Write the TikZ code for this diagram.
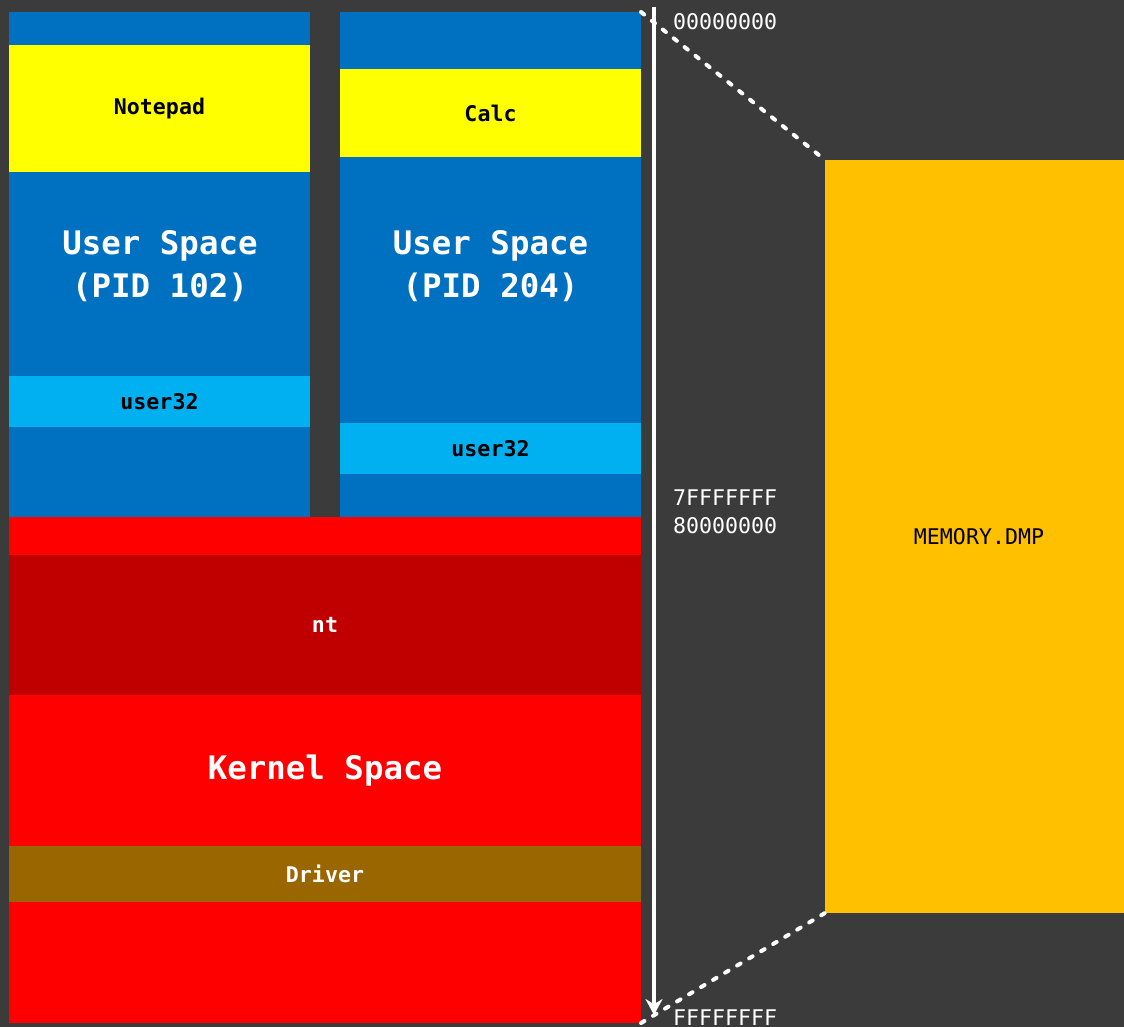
\documentclass[tikz,border=0pt]{standalone}
\usepackage{fontspec}
\setmonofont{DejaVu Sans Mono}
\usetikzlibrary{arrows.meta}
\definecolor{bg}{HTML}{3B3B3B}
\definecolor{ublue}{HTML}{0070C0}
\definecolor{uyellow}{HTML}{FFFF00}
\definecolor{lblue}{HTML}{00B0F0}
\definecolor{kred}{HTML}{FF0000}
\definecolor{dred}{HTML}{C00000}
\definecolor{brown}{HTML}{996600}
\definecolor{orange}{HTML}{FFC000}
\begin{document}
\begin{tikzpicture}[x=1pt,y=-1pt,
  box/.style={draw=none,inner sep=0pt,outer sep=0pt,anchor=north west},
  small/.style={font=\ttfamily\bfseries\fontsize{21.6}{26}\selectfont},
  big/.style={font=\ttfamily\bfseries\fontsize{32.4}{43}\selectfont,text=white,align=center},
  addr/.style={font=\ttfamily\fontsize{21.6}{26}\selectfont,text=white,anchor=west,inner sep=0pt},
  dashline/.style={draw=white,line width=4pt,line cap=round,dash pattern=on 4pt off 10pt}]
\fill[bg] (0,0) rectangle (1124,1027);
\useasboundingbox (0,0) rectangle (1124,1027);
\clip (0,0) rectangle (1124,1027);
% column 1
\node[box,fill=ublue,minimum width=301pt,minimum height=505pt] (u1) at (9,12) {};
\node[box,fill=uyellow,minimum width=301pt,minimum height=127pt,small] (np) at (9,45) {\raisebox{-2pt}{Notepad}};
\node[box,fill=lblue,minimum width=301pt,minimum height=51pt,small] (us1) at (9,376) {user32};
\node[big] (t1) at (160,266.5) {User Space\\(PID 102)};
% column 2
\node[box,fill=ublue,minimum width=301pt,minimum height=505pt] (u2) at (340,12) {};
\node[box,fill=uyellow,minimum width=301pt,minimum height=88pt,small] (calc) at (340,69) {Calc};
\node[box,fill=lblue,minimum width=301pt,minimum height=51pt,small] (us2) at (340,423) {user32};
\node[big] (t2) at (490.5,266.5) {User Space\\(PID 204)};
% kernel
\node[box,fill=kred,minimum width=632pt,minimum height=506pt] (k) at (9,517) {};
\node[box,fill=dred,minimum width=632pt,minimum height=140pt,small,text=white] (nt) at (9,555) {nt};
\node[big] (kt) at (325,771) {Kernel Space};
\node[box,fill=brown,minimum width=632pt,minimum height=56pt,small,text=white] (drv) at (9,846) {Driver};
% memory dump
\node[box,fill=orange,minimum width=299pt,minimum height=753pt,font=\ttfamily\fontsize{21.6}{26}\selectfont] (mem) at (825,160) {\hspace*{9pt}MEMORY.DMP};
% address axis
\coordinate (atop) at (654,7);
\coordinate (abot) at (654,1015);
\draw[white,line width=3.5pt,-{Stealth[length=16pt,width=17pt]}] (atop) -- (abot);
\node[addr] (a0) at (673,22) {00000000};
\node[addr] (a1) at (673,498) {7FFFFFFF};
\node[addr] (a2) at (673,526) {80000000};
\node[addr] (a3) at (673,1018) {FFFFFFFF};
% projection lines
\draw[dashline] (u2.north east) -- (mem.north west);
\draw[dashline] (k.south east) -- (mem.south west);
\end{tikzpicture}
\end{document}
